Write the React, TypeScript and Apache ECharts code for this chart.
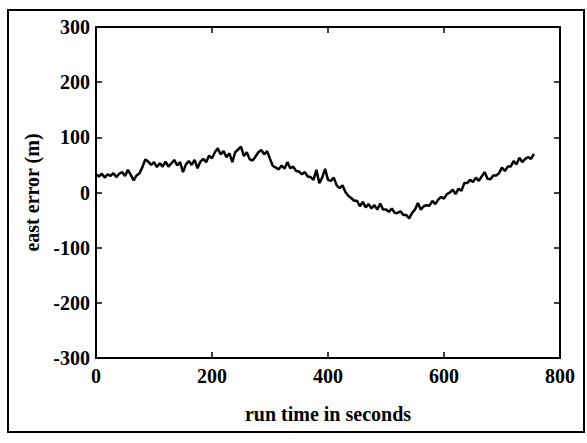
import React, { useEffect, useRef } from "react";
import * as echarts from "echarts";

const timeSeconds = [
  0, 5, 10, 15, 20, 25, 30, 35, 40, 45, 50, 55, 60, 65, 70, 75, 80, 85, 90, 95,
  100, 105, 110, 115, 120, 125, 130, 135, 140, 145, 150, 155, 160, 165, 170, 175, 180, 185, 190, 195,
  200, 205, 210, 215, 220, 225, 230, 235, 240, 245, 250, 255, 260, 265, 270, 275, 280, 285, 290, 295,
  300, 305, 310, 315, 320, 325, 330, 335, 340, 345, 350, 355, 360, 365, 370, 375, 380, 385, 390, 395,
  400, 405, 410, 415, 420, 425, 430, 435, 440, 445, 450, 455, 460, 465, 470, 475, 480, 485, 490, 495,
  500, 505, 510, 515, 520, 525, 530, 535, 540, 545, 550, 555, 560, 565, 570, 575, 580, 585, 590, 595,
  600, 605, 610, 615, 620, 625, 630, 635, 640, 645, 650, 655, 660, 665, 670, 675, 680, 685, 690, 695,
  700, 705, 710, 715, 720, 725, 730, 735, 740, 745, 750, 755,
];

const eastError = [
  33, 29, 34, 27, 33, 30, 35, 28, 34, 37, 30, 41, 32, 22, 31, 35, 46, 60, 56, 50,
  55, 46, 53, 47, 56, 47, 53, 59, 49, 55, 37, 51, 57, 50, 59, 44, 56, 61, 55, 67,
  62, 73, 80, 69, 75, 64, 71, 55, 73, 78, 83, 66, 73, 60, 58, 65, 73, 77, 69, 75,
  61, 48, 45, 42, 49, 43, 55, 44, 47, 39, 38, 33, 37, 29, 28, 23, 41, 17, 27, 43,
  23, 21, 27, 13, 8, 13, 1, -6, -10, -15, -15, -25, -17, -27, -21, -29, -23, -31, -20, -31,
  -31, -35, -29, -37, -37, -34, -41, -41, -47, -37, -31, -19, -31, -25, -23, -24, -15, -21, -13, -8,
  -11, -3, 0, 5, -3, 7, 3, 17, 17, 23, 19, 27, 21, 29, 37, 25, 24, 31, 31, 35,
  45, 39, 47, 47, 57, 51, 63, 55, 61, 64, 61, 70,
];

const xTicks = [0, 800, 200];
const yTicks = [-300, 300, 100];
const xTitle = "run time in seconds";
const yTitle = "east error (m)";

export default function App() {
  const ref = useRef<HTMLDivElement>(null);
  useEffect(() => {
    if (!ref.current) return;
    const chart = echarts.init(ref.current, null, { renderer: "svg" });
    const font = "'Liberation Serif', 'Times New Roman', serif";
    const axisLine = { show: true, onZero: false, lineStyle: { color: "#000", width: 2 } };
    const tick = { show: true, inside: true, length: 6, lineStyle: { color: "#000", width: 1.5 } };
    const label = { color: "#000", fontFamily: font, fontWeight: "bold" as const, fontSize: 20 };
    chart.setOption({
      animation: false,
      backgroundColor: "#fff",
      grid: { left: 96, right: 27, top: 27, bottom: 85 },
      xAxis: [
        {
          type: "value",
          position: "bottom",
          min: xTicks[0],
          max: xTicks[1],
          interval: xTicks[2],
          name: xTitle,
          nameLocation: "middle",
          nameGap: 46,
          nameTextStyle: { ...label },
          axisLine,
          axisTick: tick,
          axisLabel: { ...label, margin: 8 },
          splitLine: { show: false },
        },
        {
          type: "value",
          position: "top",
          min: xTicks[0],
          max: xTicks[1],
          interval: xTicks[2],
          axisLine,
          axisTick: tick,
          axisLabel: { show: false },
          splitLine: { show: false },
        },
      ],
      yAxis: [
        {
          type: "value",
          position: "left",
          min: yTicks[0],
          max: yTicks[1],
          interval: yTicks[2],
          name: yTitle,
          nameLocation: "middle",
          nameGap: 54,
          nameTextStyle: { ...label },
          axisLine,
          axisTick: tick,
          axisLabel: { ...label, margin: 6 },
          splitLine: { show: false },
        },
        {
          type: "value",
          position: "right",
          min: yTicks[0],
          max: yTicks[1],
          interval: yTicks[2],
          axisLine,
          axisTick: tick,
          axisLabel: { show: false },
          splitLine: { show: false },
        },
      ],
      graphic: [
        {
          type: "rect",
          shape: { x: 8, y: 10, width: 576, height: 422 },
          style: { fill: "none", stroke: "#000", lineWidth: 2 },
          silent: true,
        },
      ],
      series: [
        {
          type: "line",
          data: timeSeconds.map((t, i) => [t, eastError[i]]),
          showSymbol: false,
          lineStyle: { color: "#000", width: 2.5 },
          xAxisIndex: 0,
          yAxisIndex: 0,
        },
      ],
    });
    return () => chart.dispose();
  }, []);
  return (
    <div
      ref={ref}
      style={{ position: "fixed", left: 0, top: 0, width: 587, height: 443 }}
    />
  );
}
